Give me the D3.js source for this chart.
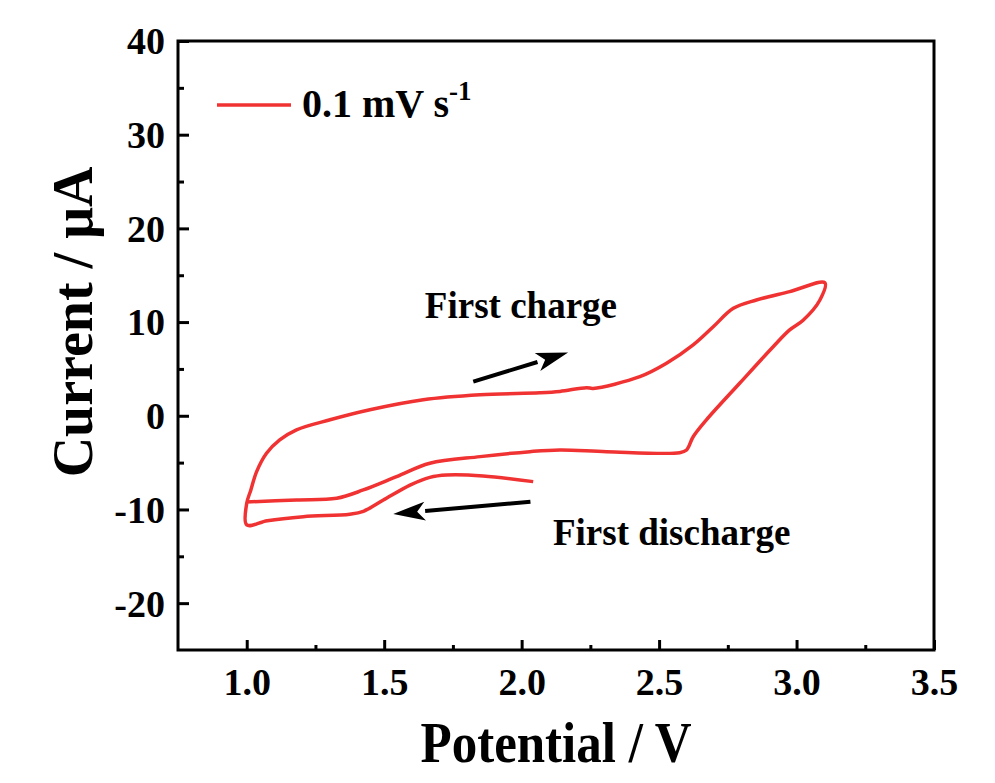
<!DOCTYPE html>
<html>
<head>
<meta charset="utf-8">
<script src="https://cdn.jsdelivr.net/npm/d3@7"></script>
<style>
  body { margin: 0; background: #fff; }
  svg { display: block; }
  text { font-family: "Liberation Serif", "Times New Roman", serif; font-weight: bold; fill: #000; }
</style>
</head>
<body>
<script>
// CV curve: potential (V) and current (uA), in scan order
var potential = [2.042, 1.86, 1.727, 1.666, 1.594, 1.497, 1.424, 1.375, 1.206, 1.075, 1.0,
    1.0, 1.015, 1.036, 1.072, 1.12, 1.181, 1.303, 1.448, 1.642, 1.849, 2.066, 2.139, 2.236, 2.26, 2.43,
    2.527, 2.624, 2.697, 2.77, 2.854, 2.975, 3.103, 3.085, 3.024, 2.975, 2.915, 2.793, 2.672, 2.624,
    2.6, 2.575, 2.309, 2.139, 2.03, 1.849, 1.666, 1.545, 1.424, 1.327, 1.181, 1.0];
var current = [-7.03, -6.42, -6.32, -6.57, -7.4, -9.0, -10.2, -10.5, -10.77, -11.2, -11.65,
    -9.34, -7.92, -5.96, -4.0, -2.58, -1.5, -0.43, 0.64, 1.71, 2.24, 2.45, 2.6, 3.0, 2.92, 4.17,
    5.6, 7.56, 9.5, 11.47, 12.36, 13.25, 14.2, 12.36, 10.2, 9.16, 7.37, 3.47, -0.44, -2.24,
    -3.65, -3.94, -3.83, -3.65, -3.83, -4.36, -5.07, -6.5, -7.92, -8.8, -8.98, -9.2];

var xTicks = [1.0, 1.5, 2.0, 2.5, 3.0, 3.5];
var xMinor = [1.25, 1.75, 2.25, 2.75, 3.25];
var yTicks = [-20, -10, 0, 10, 20, 30, 40];
var yMinor = [-15, -5, 5, 15, 25, 35];

var seriesName = '0.1 mV s';
var seriesSup = '-1';
var xTitle = 'Potential / V';
var yTitle = 'Current / \u03bcA';

// arrows: [V, I] tail -> tip
var arrowCharge = [[1.824, 3.64], [2.169, 6.74]];
var arrowDischarge = [[2.032, -9.17], [1.533, -10.48]];
var noteText = ['First charge', 'First discharge'];
var notePos = [[1.648, 10.4], [2.114, -13.8]];

(function() {
    var w = 995, h = 783;
    var left = 178, right = 934, top = 41, bottom = 650;
    var red = '#f03232';

    var svg = d3.select('body').append('svg')
        .attr('width', w)
        .attr('height', h);
    svg.append('rect').attr('width', w).attr('height', h).attr('fill', '#fff');

    var x = d3.scaleLinear().domain([0.75, 3.5]).range([left, right]);
    var y = d3.scaleLinear().domain([-25, 40]).range([bottom, top]);

    // axes, ticks pointing into the plot
    var gx = svg.append('g')
        .attr('transform', 'translate(0,' + bottom + ')')
        .call(d3.axisBottom(x).tickValues(xTicks).tickSize(-10).tickFormat(d3.format('.1f')));
    var gxm = svg.append('g')
        .attr('transform', 'translate(0,' + bottom + ')')
        .call(d3.axisBottom(x).tickValues(xMinor).tickSize(-5).tickFormat(''));
    var gy = svg.append('g')
        .attr('transform', 'translate(' + left + ',0)')
        .call(d3.axisLeft(y).tickValues(yTicks).tickSize(-11).tickFormat(function(d) { return String(d); }));
    var gym = svg.append('g')
        .attr('transform', 'translate(' + left + ',0)')
        .call(d3.axisLeft(y).tickValues(yMinor).tickSize(-6).tickFormat(''));

    svg.selectAll('.domain').remove();
    svg.selectAll('.tick line').attr('stroke', '#000').attr('stroke-width', 3);
    gxm.selectAll('.tick text').remove();
    gym.selectAll('.tick text').remove();
    gx.selectAll('.tick text')
        .attr('y', 45).attr('dy', 0)
        .attr('font-size', 38);
    gy.selectAll('.tick text')
        .attr('x', -13).attr('dy', '0.34em')
        .attr('font-size', 38);
    svg.selectAll('.tick text').attr('fill', '#000')
        .attr('font-family', '"Liberation Serif", "Times New Roman", serif')
        .attr('font-weight', 'bold');

    // frame
    svg.append('rect')
        .attr('x', left).attr('y', top)
        .attr('width', right - left).attr('height', bottom - top)
        .attr('fill', 'none')
        .attr('stroke', '#000')
        .attr('stroke-width', 3);

    // the CV loop
    var pts = d3.zip(potential, current);
    var line = d3.line()
        .x(function(d) { return x(d[0]); })
        .y(function(d) { return y(d[1]); })
        .curve(d3.curveCatmullRom.alpha(0.5));
    svg.append('path')
        .datum(pts)
        .attr('d', line)
        .attr('fill', 'none')
        .attr('stroke', red)
        .attr('stroke-width', 3.5)
        .attr('stroke-linejoin', 'round');

    // arrows
    function arrow(a) {
        var x0 = x(a[0][0]), y0 = y(a[0][1]), x1 = x(a[1][0]), y1 = y(a[1][1]);
        var ang = Math.atan2(y1 - y0, x1 - x0);
        var len = 32, hw = 9.5;
        var bx = x1 - len * Math.cos(ang), by = y1 - len * Math.sin(ang);
        svg.append('line')
            .attr('x1', x0).attr('y1', y0).attr('x2', bx).attr('y2', by)
            .attr('stroke', '#000').attr('stroke-width', 4);
        var px = -Math.sin(ang) * hw, py = Math.cos(ang) * hw;
        svg.append('path')
            .attr('d', 'M' + x1 + ',' + y1 + 'L' + (bx + px) + ',' + (by + py) +
                'L' + (bx + len * 0.25 * Math.cos(ang)) + ',' + (by + len * 0.25 * Math.sin(ang)) +
                'L' + (bx - px) + ',' + (by - py) + 'Z')
            .attr('fill', '#000');
    }
    arrow(arrowCharge);
    arrow(arrowDischarge);

    svg.selectAll('.note')
        .data(noteText)
        .enter()
        .append('text')
        .attr('class', 'note')
        .attr('x', function(d, i) { return x(notePos[i][0]); })
        .attr('y', function(d, i) { return y(notePos[i][1]); })
        .attr('font-size', 37)
        .text(function(d) { return d; });

    // legend
    svg.append('line')
        .attr('x1', 217).attr('x2', 291).attr('y1', 105).attr('y2', 105)
        .attr('stroke', red).attr('stroke-width', 3.5);
    var lt = svg.append('text')
        .attr('x', 302).attr('y', 117)
        .attr('font-size', 40);
    lt.append('tspan').text(seriesName);
    lt.append('tspan').attr('dy', -17).attr('font-size', 27).text(seriesSup);

    // titles
    svg.append('text')
        .attr('x', (left + right) / 2).attr('y', 762)
        .attr('text-anchor', 'middle')
        .attr('font-size', 56)
        .attr('textLength', 271)
        .attr('lengthAdjust', 'spacingAndGlyphs')
        .text(xTitle);
    svg.append('text')
        .attr('transform', 'translate(92,322) rotate(-90)')
        .attr('text-anchor', 'middle')
        .attr('font-size', 56)
        .text(yTitle);
})();
</script>
</body>
</html>
